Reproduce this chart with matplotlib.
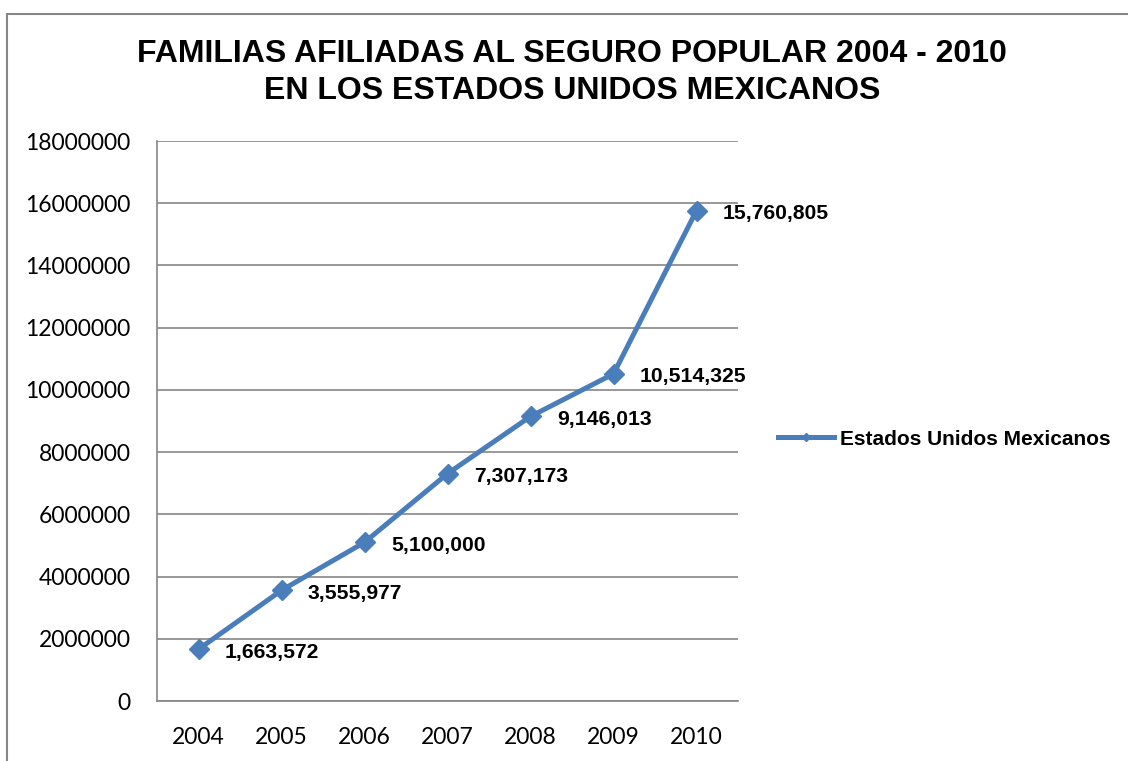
import matplotlib
matplotlib.use("Agg")
import matplotlib.pyplot as plt
from matplotlib.ticker import FuncFormatter, MultipleLocator
from matplotlib.lines import Line2D

# data
years = ["2004", "2005", "2006", "2007", "2008", "2009", "2010"]
familias = [1663572, 3555977, 5100000, 7307173, 9146013, 10514325, 15760805]
serie = "Estados Unidos Mexicanos"
titulo = "FAMILIAS AFILIADAS AL SEGURO POPULAR 2004 - 2010\nEN LOS ESTADOS UNIDOS MEXICANOS"

W, H = 1128, 761
azul = "#4A7EBB"
gris = "#868686"

fig = plt.figure(figsize=(W / 100, H / 100), dpi=100)

# outer chart border (only top/left visible in the original)
fig.add_artist(Line2D([7 / W, 7 / W], [0, 1 - 14 / H], color=gris, lw=1.5,
                      transform=fig.transFigure))
fig.add_artist(Line2D([7 / W, 1], [1 - 14 / H, 1 - 14 / H], color=gris, lw=1.5,
                      transform=fig.transFigure))

ax = fig.add_axes([157 / W, (H - 701) / H, (738 - 157) / W, (701 - 141) / H])

x = list(range(len(years)))
ax.plot(x, familias, color=azul, lw=3.6, marker="D", markersize=10,
        markerfacecolor=azul, markeredgecolor=azul, label=serie, zorder=3)

for xi, v in zip(x, familias):
    ax.annotate(f"{v:,}", (xi, v), xytext=(19, -2), textcoords="offset points",
                ha="left", va="center", fontsize=15.2, fontweight="bold",
                family="Liberation Sans", color="black")

ax.set_xlim(-0.5, len(years) - 0.5)
ax.set_ylim(0, 18000000)
ax.yaxis.set_major_locator(MultipleLocator(2000000))
ax.yaxis.set_major_formatter(FuncFormatter(lambda v, p: f"{int(v)}"))
ax.set_xticks(x)
ax.set_xticklabels(years)

ax.grid(axis="y", color=gris, lw=1.2)
ax.set_axisbelow(True)
for s in ["top", "right"]:
    ax.spines[s].set_visible(False)
for s in ["left", "bottom"]:
    ax.spines[s].set_color(gris)
    ax.spines[s].set_linewidth(1.2)

ax.tick_params(axis="both", length=0, labelsize=16.5)
ax.tick_params(axis="y", pad=19)
ax.tick_params(axis="x", pad=19)
for lab in ax.get_xticklabels() + ax.get_yticklabels():
    lab.set_family("Lato")

fig.text(572 / W, 1 - 39 / H, titulo, ha="center", va="top", fontsize=23,
         fontweight="bold", family="Liberation Sans", linespacing=1.3)

leg = ax.legend(loc="center left", bbox_to_anchor=(778 / W, 1 - 439 / H),
                bbox_transform=fig.transFigure, frameon=False, borderpad=0,
                borderaxespad=0, handlelength=2.7, handletextpad=0.3,
                markerscale=0.45, prop={"family": "Liberation Sans",
                                        "weight": "bold", "size": 15})

fig.savefig("out.png", dpi=100)
